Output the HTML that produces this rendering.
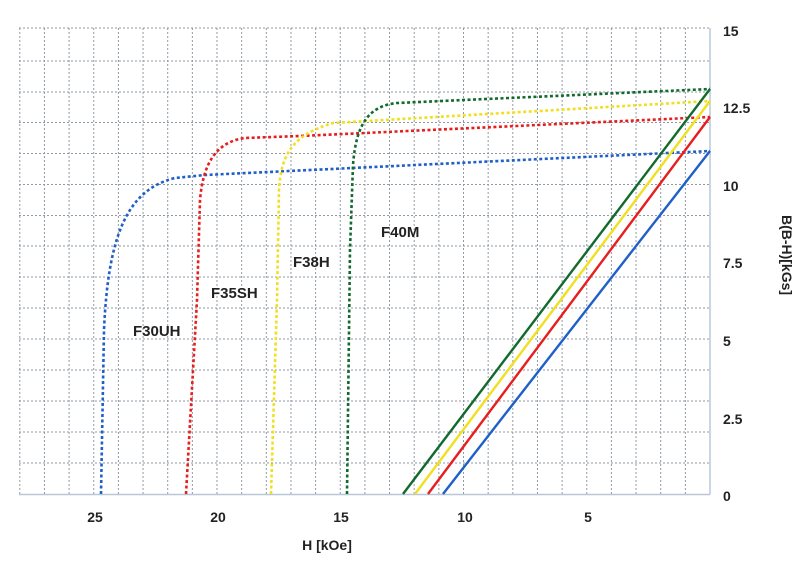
<!DOCTYPE html>
<html><head><meta charset="utf-8"><style>
html,body{margin:0;padding:0;background:#fff;}
svg{display:block;font-family:"Liberation Sans",Arial,sans-serif;font-weight:bold;}
</style></head><body>
<svg width="807" height="581" viewBox="0 0 807 581" xmlns="http://www.w3.org/2000/svg">
<g stroke="#8f9aa5" stroke-width="1" stroke-dasharray="2,2">
<line x1="19" y1="28" x2="710" y2="28"/>
<line x1="19" y1="61" x2="710" y2="61"/>
<line x1="19" y1="92" x2="710" y2="92"/>
<line x1="19" y1="122.5" x2="710" y2="122.5"/>
<line x1="19" y1="153.5" x2="710" y2="153.5"/>
<line x1="19" y1="184.5" x2="710" y2="184.5"/>
<line x1="19" y1="215.5" x2="710" y2="215.5"/>
<line x1="19" y1="246" x2="710" y2="246"/>
<line x1="19" y1="277" x2="710" y2="277"/>
<line x1="19" y1="308" x2="710" y2="308"/>
<line x1="19" y1="339" x2="710" y2="339"/>
<line x1="19" y1="370" x2="710" y2="370"/>
<line x1="19" y1="401" x2="710" y2="401"/>
<line x1="19" y1="432" x2="710" y2="432"/>
<line x1="19" y1="463" x2="710" y2="463"/>
</g>
<g stroke="#8f9aa5" stroke-width="1" stroke-dasharray="2,2" id="v"></g>
<script>
var g=document.getElementById('v');
for(var i=0;i<=28;i++){var x=710-24.65*i;var l=document.createElementNS('http://www.w3.org/2000/svg','line');l.setAttribute('x1',x);l.setAttribute('x2',x);l.setAttribute('y1',28);l.setAttribute('y2',494.5);g.appendChild(l);}
</script>
<line x1="19" y1="494.5" x2="710" y2="494.5" stroke="#b8c8d8" stroke-width="1.5"/>
<line x1="710" y1="28" x2="710" y2="494.5" stroke="#b8c8d8" stroke-width="1.5"/>
<g fill="none" stroke-width="2.6" stroke-dasharray="3,2.5">
<path d="M101,494 L104,330 C108,240 125,190 175,178 L205,175 L710,151" stroke="#1f5fc8"/>
<path d="M186,494 L197,300 L200,200 C203,165 215,142 245,138 L300,136 L710,117" stroke="#e81d1d"/>
<path d="M271,494 L277,300 L279,190 C281,155 292,135 333,123 L710,101" stroke="#f0e020"/>
<path d="M347,494 L350,250 L353,165 C356,125 368,106 397,103 L710,89" stroke="#126a2c"/>
</g>
<g fill="none" stroke-width="2.4">
<line x1="443" y1="494" x2="710" y2="151" stroke="#1f5fc8"/>
<line x1="428" y1="494" x2="710" y2="117" stroke="#e81d1d"/>
<line x1="415" y1="494" x2="710" y2="101" stroke="#f0e020"/>
<line x1="403" y1="494" x2="710" y2="89" stroke="#126a2c"/>
</g>
<g font-size="15" fill="#222">
<text x="133" y="336">F30UH</text>
<text x="211" y="298">F35SH</text>
<text x="293" y="267">F38H</text>
<text x="381" y="237">F40M</text>
</g>
<g font-size="14" fill="#222">
<text x="723" y="36">15</text>
<text x="723" y="113">12.5</text>
<text x="723" y="191">10</text>
<text x="723" y="268">7.5</text>
<text x="723" y="346">5</text>
<text x="723" y="424">2.5</text>
<text x="723" y="501">0</text>
<g text-anchor="middle">
<text x="95" y="522">25</text>
<text x="218" y="522">20</text>
<text x="341" y="522">15</text>
<text x="465" y="522">10</text>
<text x="588" y="522">5</text>
</g>
<text x="327" y="550" text-anchor="middle">H [kOe]</text>
<text transform="translate(782,255) rotate(90)" text-anchor="middle">B(B-H)[kGs]</text>
</g>
</svg>
</body></html>
